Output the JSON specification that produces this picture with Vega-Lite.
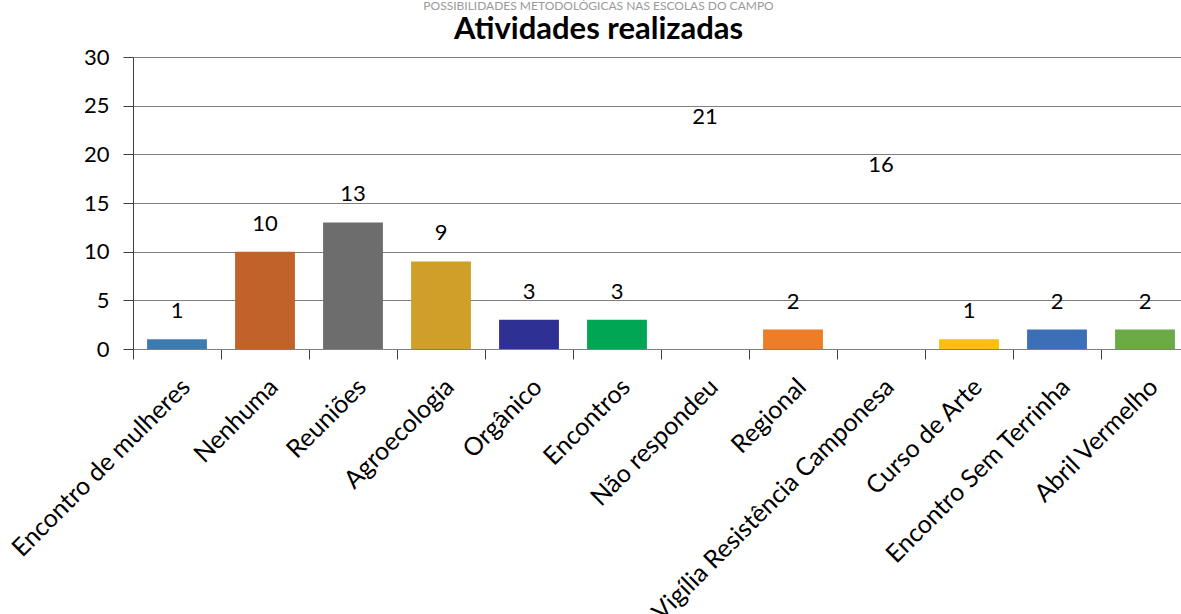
{
  "$schema": "https://vega.github.io/schema/vega-lite/v6.json",
  "width": 1056,
  "height": 292,
  "padding": {"left": 7, "top": 0, "right": 0, "bottom": 0},
  "background": "white",
  "config": {"view": {"stroke": null}, "font": "Lato"},
  "title": {
    "text": "POSSIBILIDADES METODOLÓGICAS NAS ESCOLAS DO CAMPO",
    "fontSize": 12,
    "fontWeight": "normal",
    "color": "#9a9a9a",
    "subtitle": "Atividades realizadas",
    "subtitleFontSize": 31,
    "subtitleFontWeight": "bold",
    "subtitleColor": "#000000",
    "subtitlePadding": 2,
    "frame": "bounds",
    "anchor": "middle",
    "offset": -4,
    "dy": -4
  },
  "data": {
    "values": [
      {"atividade": "Encontro de mulheres", "valor": 1},
      {"atividade": "Nenhuma", "valor": 10},
      {"atividade": "Reuniões", "valor": 13},
      {"atividade": "Agroecologia", "valor": 9},
      {"atividade": "Orgânico", "valor": 3},
      {"atividade": "Encontros", "valor": 3},
      {"atividade": "Não respondeu", "valor": 21},
      {"atividade": "Regional", "valor": 2},
      {"atividade": "Vigília Resistência Camponesa", "valor": 16},
      {"atividade": "Curso de Arte", "valor": 1},
      {"atividade": "Encontro Sem Terrinha", "valor": 2},
      {"atividade": "Abril Vermelho", "valor": 2}
    ]
  },
  "encoding": {
    "x": {
      "field": "atividade",
      "type": "nominal",
      "sort": null,
      "scale": {"paddingInner": 0, "paddingOuter": 0},
      "axis": {
        "title": null,
        "labelAngle": -45,
        "labelFontSize": 25,
        "labelColor": "#000000",
        "labelPadding": 15,
        "labelLimit": 0,
        "labelOverlap": false,
        "tickBand": "extent",
        "tickSize": 10,
        "tickColor": "#404040",
        "domainColor": "#808080",
        "grid": false
      }
    },
    "y": {
      "field": "valor",
      "type": "quantitative",
      "scale": {"domain": [0, 30], "nice": false},
      "axis": {
        "title": null,
        "values": [0, 5, 10, 15, 20, 25, 30],
        "labelFontSize": 22,
        "labelColor": "#000000",
        "labelPadding": 14,
        "tickSize": 10,
        "tickColor": "#404040",
        "domainColor": "#404040",
        "grid": true,
        "gridColor": "#808080",
        "gridOpacity": 1
      }
    }
  },
  "layer": [
    {
      "mark": {"type": "bar", "width": {"band": 0.68}},
      "encoding": {
        "color": {
          "field": "atividade",
          "type": "nominal",
          "legend": null,
          "scale": {
            "domain": ["Encontro de mulheres", "Nenhuma", "Reuniões", "Agroecologia", "Orgânico", "Encontros", "Não respondeu", "Regional", "Vigília Resistência Camponesa", "Curso de Arte", "Encontro Sem Terrinha", "Abril Vermelho"],
            "range": ["#3c7bb0", "#c0622a", "#6d6d6d", "#d09f2a", "#2e3192", "#00a651", "transparent", "#ed7d26", "transparent", "#fdbe10", "#3d6fb6", "#6aab46"]
          }
        }
      }
    },
    {
      "mark": {"type": "text", "baseline": "bottom", "dy": -16, "fontSize": 22, "color": "#000000"},
      "encoding": {"text": {"field": "valor", "type": "quantitative"}}
    }
  ]
}
